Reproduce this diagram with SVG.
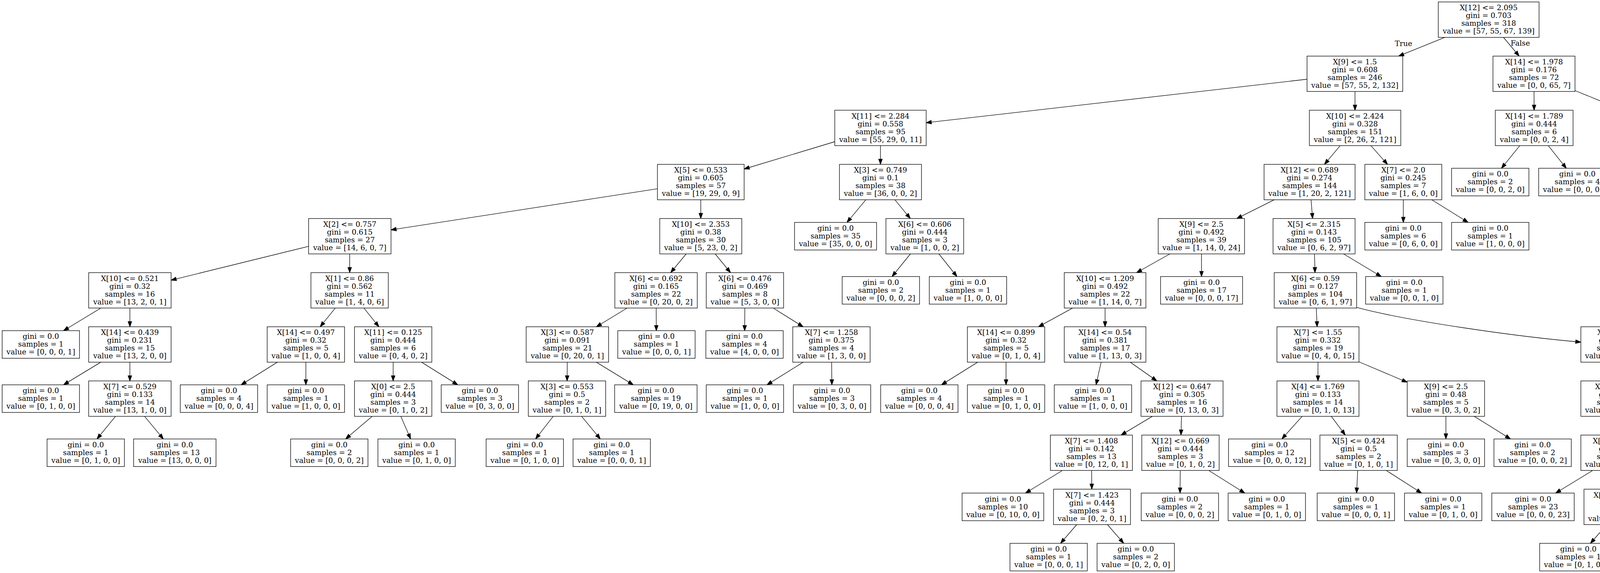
<svg xmlns="http://www.w3.org/2000/svg" width="4720" height="1468" viewBox="0 0 4720 1468">
<style>
.node rect{fill:#fff;stroke:#000;stroke-width:1.33}
text{font-family:"DejaVu Serif","Liberation Serif",serif;font-size:18.67px;text-anchor:middle;fill:#000}
.edges line,.edges path{stroke:#000;stroke-width:1.33;fill:none;marker-end:url(#arrow)}
</style>
<defs>
<marker id="arrow" markerUnits="userSpaceOnUse" markerWidth="14" markerHeight="10" refX="13.33" refY="4.67" orient="auto" overflow="visible">
<path d="M0,0 L13.33,4.67 L0,9.33 z" fill="#000" stroke="#000" stroke-width="1.33"/>
</marker>
</defs>
<rect width="4720" height="1468" fill="#fff"/>
<g id="edges" class="edges">
<line x1="3699" y1="95.7" x2="3580.5" y2="143.7"/>
<line x1="3848.9" y1="95.7" x2="3889.1" y2="143.7"/>
<line x1="3346" y1="203" x2="2371" y2="314.4"/>
<line x1="3468.7" y1="234.4" x2="3468.8" y2="282.4"/>
<line x1="3927.2" y1="234.4" x2="3927.3" y2="282.4"/>
<line x1="4032" y1="232" x2="4161" y2="284.8"/>
<line x1="2137" y1="363" x2="1905" y2="433"/>
<line x1="2254" y1="373.1" x2="2254" y2="421.1"/>
<line x1="3430.9" y1="373.1" x2="3390.6" y2="421.1"/>
<line x1="3509.4" y1="373.1" x2="3552.1" y2="421.1"/>
<line x1="3890.7" y1="373.1" x2="3843.7" y2="431.1"/>
<line x1="3963.6" y1="373.1" x2="4009.8" y2="431.1"/>
<line x1="4266" y1="373.1" x2="4266" y2="431.1"/>
<line x1="4342.7" y1="373.1" x2="4423.8" y2="421.1"/>
<line x1="1683" y1="483.6" x2="1001" y2="588.9"/>
<line x1="1794" y1="511.8" x2="1794" y2="559.8"/>
<line x1="2216.4" y1="511.8" x2="2168.3" y2="569.8"/>
<line x1="2291.1" y1="511.8" x2="2330.4" y2="559.8"/>
<line x1="3261.9" y1="511.8" x2="3166.1" y2="559.8"/>
<line x1="3356.3" y1="511.8" x2="3360.2" y2="559.8"/>
<line x1="3592.5" y1="511.8" x2="3592.5" y2="569.8"/>
<line x1="3665.3" y1="511.8" x2="3758.3" y2="569.8"/>
<line x1="4463.6" y1="511.8" x2="4424.4" y2="559.8"/>
<line x1="4537.9" y1="511.8" x2="4585.8" y2="569.8"/>
<line x1="790" y1="631.1" x2="438" y2="717.8"/>
<line x1="895.3" y1="650.5" x2="895.2" y2="698.5"/>
<line x1="1756.6" y1="650.5" x2="1716.9" y2="698.5"/>
<line x1="1830.9" y1="650.5" x2="1870.1" y2="698.5"/>
<line x1="2330.7" y1="650.5" x2="2283.7" y2="708.5"/>
<line x1="2403.6" y1="650.5" x2="2449.8" y2="708.5"/>
<line x1="2994.9" y1="650.5" x2="2909.6" y2="698.5"/>
<line x1="3075.7" y1="650.5" x2="3075.9" y2="708.5"/>
<line x1="3365.1" y1="650.5" x2="3366.4" y2="698.5"/>
<line x1="3439.5" y1="650.5" x2="3536.1" y2="708.5"/>
<line x1="4350.4" y1="650.5" x2="4302.9" y2="708.5"/>
<line x1="4424.9" y1="650.5" x2="4472.8" y2="708.5"/>
<line x1="258" y1="789.2" x2="162.6" y2="847.2"/>
<line x1="332.5" y1="789.2" x2="332.5" y2="837.2"/>
<line x1="858.4" y1="789.2" x2="819.6" y2="837.2"/>
<line x1="931.5" y1="789.2" x2="970" y2="837.2"/>
<line x1="1605.3" y1="789.2" x2="1526.7" y2="837.2"/>
<line x1="1679.8" y1="789.2" x2="1680.2" y2="847.2"/>
<line x1="1906.7" y1="789.2" x2="1906.3" y2="847.2"/>
<line x1="1979.4" y1="789.2" x2="2056.1" y2="837.2"/>
<line x1="2746.1" y1="789.2" x2="2658.4" y2="837.2"/>
<line x1="2829" y1="789.2" x2="2829" y2="837.2"/>
<line x1="3369.6" y1="789.2" x2="3371.9" y2="837.2"/>
<path d="M3473.3,787.7 C3600,822 3880,862 4047,876.5"/>
<line x1="258" y1="927.9" x2="162.6" y2="985.9"/>
<line x1="332.5" y1="927.9" x2="332.5" y2="975.9"/>
<line x1="710.2" y1="927.9" x2="617.2" y2="985.9"/>
<line x1="783" y1="927.9" x2="783" y2="985.9"/>
<line x1="1006.5" y1="927.9" x2="1006.5" y2="975.9"/>
<line x1="1079.1" y1="927.9" x2="1171.9" y2="985.9"/>
<line x1="1452.2" y1="927.9" x2="1451.8" y2="975.9"/>
<line x1="1526.6" y1="927.9" x2="1621.3" y2="985.9"/>
<line x1="2056.1" y1="927.9" x2="1963.5" y2="985.9"/>
<line x1="2129" y1="927.9" x2="2129.6" y2="985.9"/>
<line x1="2502.9" y1="927.9" x2="2410.1" y2="985.9"/>
<line x1="2575.5" y1="927.9" x2="2575.5" y2="985.9"/>
<line x1="2818.9" y1="927.9" x2="2805.9" y2="985.9"/>
<line x1="2893.4" y1="927.9" x2="2961.6" y2="975.9"/>
<line x1="3374" y1="927.9" x2="3374" y2="975.9"/>
<line x1="3479" y1="927" x2="3602.5" y2="979.3"/>
<line x1="4151.5" y1="927.9" x2="4151.5" y2="975.9"/>
<line x1="4228.3" y1="927.9" x2="4326.6" y2="985.9"/>
<line x1="295.6" y1="1066.6" x2="248.3" y2="1124.6"/>
<line x1="370.1" y1="1066.6" x2="418.2" y2="1124.6"/>
<line x1="953" y1="1066.6" x2="884.7" y2="1124.6"/>
<line x1="1026.1" y1="1066.6" x2="1051.2" y2="1124.6"/>
<line x1="1416.2" y1="1066.6" x2="1371" y2="1124.6"/>
<line x1="1488.9" y1="1066.6" x2="1536.8" y2="1124.6"/>
<line x1="2950.1" y1="1066.6" x2="2869.9" y2="1114.6"/>
<line x1="3024.7" y1="1066.6" x2="3023.3" y2="1114.6"/>
<line x1="3333.5" y1="1066.6" x2="3281.6" y2="1124.6"/>
<line x1="3408" y1="1066.6" x2="3444" y2="1114.6"/>
<line x1="3701.5" y1="1066.6" x2="3701.5" y2="1124.6"/>
<line x1="3774.1" y1="1066.6" x2="3866.9" y2="1124.6"/>
<line x1="4151.5" y1="1066.6" x2="4151.5" y2="1114.6"/>
<line x1="4226" y1="1066.6" x2="4305" y2="1114.6"/>
<line x1="2719.9" y1="1205.3" x2="2625.2" y2="1263.3"/>
<line x1="2794.5" y1="1205.3" x2="2795" y2="1253.3"/>
<line x1="3021.5" y1="1205.3" x2="3020.9" y2="1263.3"/>
<line x1="3094.3" y1="1205.3" x2="3186.7" y2="1263.3"/>
<line x1="3475.7" y1="1205.3" x2="3472.8" y2="1263.3"/>
<line x1="3548.8" y1="1205.3" x2="3639.3" y2="1263.3"/>
<line x1="4077.3" y1="1205.3" x2="3982.4" y2="1263.3"/>
<line x1="4152.2" y1="1205.3" x2="4152.8" y2="1253.3"/>
<line x1="4379.5" y1="1205.3" x2="4379.5" y2="1263.3"/>
<line x1="4451.8" y1="1205.3" x2="4544.2" y2="1263.3"/>
<line x1="2756.4" y1="1344" x2="2715" y2="1392"/>
<line x1="2835" y1="1344" x2="2876.7" y2="1392"/>
<line x1="4113.7" y1="1344" x2="4071.5" y2="1392"/>
<line x1="4192.1" y1="1344" x2="4232.9" y2="1392"/>
<text x="3593" y="117.5">True</text>
<text x="3892" y="116.5">False</text>
</g>
<g id="n0" class="node" transform="translate(3811,5)"><rect x="-129" width="258" height="90.7"/><text y="21.3">X[12] &lt;= 2.095</text><text y="41.3">gini = 0.703</text><text y="61.3">samples = 318</text><text y="81.3">value = [57, 55, 67, 139]</text></g>
<g id="n1" class="node" transform="translate(3468.5,143.7)"><rect x="-122.5" width="245" height="90.7"/><text y="21.3">X[9] &lt;= 1.5</text><text y="41.3">gini = 0.608</text><text y="61.3">samples = 246</text><text y="81.3">value = [57, 55, 2, 132]</text></g>
<g id="n2" class="node" transform="translate(3927,143.7)"><rect x="-105" width="210" height="90.7"/><text y="21.3">X[14] &lt;= 1.978</text><text y="41.3">gini = 0.176</text><text y="61.3">samples = 72</text><text y="81.3">value = [0, 0, 65, 7]</text></g>
<g id="n3" class="node" transform="translate(2254,282.4)"><rect x="-117" width="234" height="90.7"/><text y="21.3">X[11] &lt;= 2.284</text><text y="41.3">gini = 0.558</text><text y="61.3">samples = 95</text><text y="81.3">value = [55, 29, 0, 11]</text></g>
<g id="n4" class="node" transform="translate(3469,282.4)"><rect x="-117" width="234" height="90.7"/><text y="21.3">X[10] &lt;= 2.424</text><text y="41.3">gini = 0.328</text><text y="61.3">samples = 151</text><text y="81.3">value = [2, 26, 2, 121]</text></g>
<g id="n5" class="node" transform="translate(3927.5,282.4)"><rect x="-99.5" width="199" height="90.7"/><text y="21.3">X[14] &lt;= 1.789</text><text y="41.3">gini = 0.444</text><text y="61.3">samples = 6</text><text y="81.3">value = [0, 0, 2, 4]</text></g>
<g id="n6" class="node" transform="translate(4266,282.4)"><rect x="-105" width="210" height="90.7"/><text y="21.3">X[4] &lt;= 2.443</text><text y="41.3">gini = 0.087</text><text y="61.3">samples = 66</text><text y="81.3">value = [0, 0, 63, 3]</text></g>
<g id="n7" class="node" transform="translate(1794,421.1)"><rect x="-111" width="222" height="90.7"/><text y="21.3">X[5] &lt;= 0.533</text><text y="41.3">gini = 0.605</text><text y="61.3">samples = 57</text><text y="81.3">value = [19, 29, 0, 9]</text></g>
<g id="n8" class="node" transform="translate(2254,421.1)"><rect x="-105" width="210" height="90.7"/><text y="21.3">X[3] &lt;= 0.749</text><text y="41.3">gini = 0.1</text><text y="61.3">samples = 38</text><text y="81.3">value = [36, 0, 0, 2]</text></g>
<g id="n9" class="node" transform="translate(3352.5,421.1)"><rect x="-116.5" width="233" height="90.7"/><text y="21.3">X[12] &lt;= 0.689</text><text y="41.3">gini = 0.274</text><text y="61.3">samples = 144</text><text y="81.3">value = [1, 20, 2, 121]</text></g>
<g id="n10" class="node" transform="translate(3592.5,421.1)"><rect x="-98.5" width="197" height="90.7"/><text y="21.3">X[7] &lt;= 2.0</text><text y="41.3">gini = 0.245</text><text y="61.3">samples = 7</text><text y="81.3">value = [1, 6, 0, 0]</text></g>
<g id="n11" class="node" transform="translate(3815,431.1)"><rect x="-99" width="198" height="70.7"/><text y="21.3">gini = 0.0</text><text y="41.3">samples = 2</text><text y="61.3">value = [0, 0, 2, 0]</text></g>
<g id="n12" class="node" transform="translate(4038,431.1)"><rect x="-99" width="198" height="70.7"/><text y="21.3">gini = 0.0</text><text y="41.3">samples = 4</text><text y="61.3">value = [0, 0, 0, 4]</text></g>
<g id="n13" class="node" transform="translate(4266,431.1)"><rect x="-105" width="210" height="70.7"/><text y="21.3">gini = 0.0</text><text y="41.3">samples = 52</text><text y="61.3">value = [0, 0, 52, 0]</text></g>
<g id="n14" class="node" transform="translate(4500.5,421.1)"><rect x="-104.5" width="209" height="90.7"/><text y="21.3">X[3] &lt;= 2.314</text><text y="41.3">gini = 0.337</text><text y="61.3">samples = 14</text><text y="81.3">value = [0, 0, 11, 3]</text></g>
<g id="n15" class="node" transform="translate(895.5,559.8)"><rect x="-105.5" width="211" height="90.7"/><text y="21.3">X[2] &lt;= 0.757</text><text y="41.3">gini = 0.615</text><text y="61.3">samples = 27</text><text y="81.3">value = [14, 6, 0, 7]</text></g>
<g id="n16" class="node" transform="translate(1794,559.8)"><rect x="-105" width="210" height="90.7"/><text y="21.3">X[10] &lt;= 2.353</text><text y="41.3">gini = 0.38</text><text y="61.3">samples = 30</text><text y="81.3">value = [5, 23, 0, 2]</text></g>
<g id="n17" class="node" transform="translate(2139,569.8)"><rect x="-105" width="210" height="70.7"/><text y="21.3">gini = 0.0</text><text y="41.3">samples = 35</text><text y="61.3">value = [35, 0, 0, 0]</text></g>
<g id="n18" class="node" transform="translate(2367.5,559.8)"><rect x="-99.5" width="199" height="90.7"/><text y="21.3">X[6] &lt;= 0.606</text><text y="41.3">gini = 0.444</text><text y="61.3">samples = 3</text><text y="81.3">value = [1, 0, 0, 2]</text></g>
<g id="n19" class="node" transform="translate(3075.5,559.8)"><rect x="-110.5" width="221" height="90.7"/><text y="21.3">X[9] &lt;= 2.5</text><text y="41.3">gini = 0.492</text><text y="61.3">samples = 39</text><text y="81.3">value = [1, 14, 0, 24]</text></g>
<g id="n20" class="node" transform="translate(3364,559.8)"><rect x="-105" width="210" height="90.7"/><text y="21.3">X[5] &lt;= 2.315</text><text y="41.3">gini = 0.143</text><text y="61.3">samples = 105</text><text y="81.3">value = [0, 6, 2, 97]</text></g>
<g id="n21" class="node" transform="translate(3592.5,569.8)"><rect x="-98.5" width="197" height="70.7"/><text y="21.3">gini = 0.0</text><text y="41.3">samples = 6</text><text y="61.3">value = [0, 6, 0, 0]</text></g>
<g id="n22" class="node" transform="translate(3815,569.8)"><rect x="-99" width="198" height="70.7"/><text y="21.3">gini = 0.0</text><text y="41.3">samples = 1</text><text y="61.3">value = [1, 0, 0, 0]</text></g>
<g id="n23" class="node" transform="translate(4387.5,559.8)"><rect x="-104.5" width="209" height="90.7"/><text y="21.3">X[5] &lt;= 2.406</text><text y="41.3">gini = 0.153</text><text y="61.3">samples = 12</text><text y="81.3">value = [0, 0, 11, 1]</text></g>
<g id="n24" class="node" transform="translate(4615,569.8)"><rect x="-99" width="198" height="70.7"/><text y="21.3">gini = 0.0</text><text y="41.3">samples = 2</text><text y="61.3">value = [0, 0, 0, 2]</text></g>
<g id="n25" class="node" transform="translate(332.5,698.5)"><rect x="-105.5" width="211" height="90.7"/><text y="21.3">X[10] &lt;= 0.521</text><text y="41.3">gini = 0.32</text><text y="61.3">samples = 16</text><text y="81.3">value = [13, 2, 0, 1]</text></g>
<g id="n26" class="node" transform="translate(895,698.5)"><rect x="-99" width="198" height="90.7"/><text y="21.3">X[1] &lt;= 0.86</text><text y="41.3">gini = 0.562</text><text y="61.3">samples = 11</text><text y="81.3">value = [1, 4, 0, 6]</text></g>
<g id="n27" class="node" transform="translate(1679.5,698.5)"><rect x="-105.5" width="211" height="90.7"/><text y="21.3">X[6] &lt;= 0.692</text><text y="41.3">gini = 0.165</text><text y="61.3">samples = 22</text><text y="81.3">value = [0, 20, 0, 2]</text></g>
<g id="n28" class="node" transform="translate(1907,698.5)"><rect x="-99" width="198" height="90.7"/><text y="21.3">X[6] &lt;= 0.476</text><text y="41.3">gini = 0.469</text><text y="61.3">samples = 8</text><text y="81.3">value = [5, 3, 0, 0]</text></g>
<g id="n29" class="node" transform="translate(2255,708.5)"><rect x="-99" width="198" height="70.7"/><text y="21.3">gini = 0.0</text><text y="41.3">samples = 2</text><text y="61.3">value = [0, 0, 0, 2]</text></g>
<g id="n30" class="node" transform="translate(2478,708.5)"><rect x="-99" width="198" height="70.7"/><text y="21.3">gini = 0.0</text><text y="41.3">samples = 1</text><text y="61.3">value = [1, 0, 0, 0]</text></g>
<g id="n31" class="node" transform="translate(2829,698.5)"><rect x="-104.5" width="209" height="90.7"/><text y="21.3">X[10] &lt;= 1.209</text><text y="41.3">gini = 0.492</text><text y="61.3">samples = 22</text><text y="81.3">value = [1, 14, 0, 7]</text></g>
<g id="n32" class="node" transform="translate(3076,708.5)"><rect x="-105" width="210" height="70.7"/><text y="21.3">gini = 0.0</text><text y="41.3">samples = 17</text><text y="61.3">value = [0, 0, 0, 17]</text></g>
<g id="n33" class="node" transform="translate(3367.5,698.5)"><rect x="-105.5" width="211" height="90.7"/><text y="21.3">X[6] &lt;= 0.59</text><text y="41.3">gini = 0.127</text><text y="61.3">samples = 104</text><text y="81.3">value = [0, 6, 1, 97]</text></g>
<g id="n34" class="node" transform="translate(3595,708.5)"><rect x="-99" width="198" height="70.7"/><text y="21.3">gini = 0.0</text><text y="41.3">samples = 1</text><text y="61.3">value = [0, 0, 1, 0]</text></g>
<g id="n35" class="node" transform="translate(4274,708.5)"><rect x="-105" width="210" height="70.7"/><text y="21.3">gini = 0.0</text><text y="41.3">samples = 11</text><text y="61.3">value = [0, 0, 11, 0]</text></g>
<g id="n36" class="node" transform="translate(4502,708.5)"><rect x="-99" width="198" height="70.7"/><text y="21.3">gini = 0.0</text><text y="41.3">samples = 1</text><text y="61.3">value = [0, 0, 0, 1]</text></g>
<g id="n37" class="node" transform="translate(104.5,847.2)"><rect x="-99" width="198" height="70.7"/><text y="21.3">gini = 0.0</text><text y="41.3">samples = 1</text><text y="61.3">value = [0, 0, 0, 1]</text></g>
<g id="n38" class="node" transform="translate(332.5,837.2)"><rect x="-105.5" width="211" height="90.7"/><text y="21.3">X[14] &lt;= 0.439</text><text y="41.3">gini = 0.231</text><text y="61.3">samples = 15</text><text y="81.3">value = [13, 2, 0, 0]</text></g>
<g id="n39" class="node" transform="translate(783,837.2)"><rect x="-99" width="198" height="90.7"/><text y="21.3">X[14] &lt;= 0.497</text><text y="41.3">gini = 0.32</text><text y="61.3">samples = 5</text><text y="81.3">value = [1, 0, 0, 4]</text></g>
<g id="n40" class="node" transform="translate(1006.5,837.2)"><rect x="-99" width="198" height="90.7"/><text y="21.3">X[11] &lt;= 0.125</text><text y="41.3">gini = 0.444</text><text y="61.3">samples = 6</text><text y="81.3">value = [0, 4, 0, 2]</text></g>
<g id="n41" class="node" transform="translate(1452.5,837.2)"><rect x="-105.5" width="211" height="90.7"/><text y="21.3">X[3] &lt;= 0.587</text><text y="41.3">gini = 0.091</text><text y="61.3">samples = 21</text><text y="81.3">value = [0, 20, 0, 1]</text></g>
<g id="n42" class="node" transform="translate(1680.5,847.2)"><rect x="-99" width="198" height="70.7"/><text y="21.3">gini = 0.0</text><text y="41.3">samples = 1</text><text y="61.3">value = [0, 0, 0, 1]</text></g>
<g id="n43" class="node" transform="translate(1906,847.2)"><rect x="-99" width="198" height="70.7"/><text y="21.3">gini = 0.0</text><text y="41.3">samples = 4</text><text y="61.3">value = [4, 0, 0, 0]</text></g>
<g id="n44" class="node" transform="translate(2128.5,837.2)"><rect x="-99" width="198" height="90.7"/><text y="21.3">X[7] &lt;= 1.258</text><text y="41.3">gini = 0.375</text><text y="61.3">samples = 4</text><text y="81.3">value = [1, 3, 0, 0]</text></g>
<g id="n45" class="node" transform="translate(2575.5,837.2)"><rect x="-99" width="198" height="90.7"/><text y="21.3">X[14] &lt;= 0.899</text><text y="41.3">gini = 0.32</text><text y="61.3">samples = 5</text><text y="81.3">value = [0, 1, 0, 4]</text></g>
<g id="n46" class="node" transform="translate(2829,837.2)"><rect x="-104.5" width="209" height="90.7"/><text y="21.3">X[14] &lt;= 0.54</text><text y="41.3">gini = 0.381</text><text y="61.3">samples = 17</text><text y="81.3">value = [1, 13, 0, 3]</text></g>
<g id="n47" class="node" transform="translate(3374,837.2)"><rect x="-105" width="210" height="90.7"/><text y="21.3">X[7] &lt;= 1.55</text><text y="41.3">gini = 0.332</text><text y="61.3">samples = 19</text><text y="81.3">value = [0, 4, 0, 15]</text></g>
<g id="n48" class="node" transform="translate(4151.5,837.2)"><rect x="-104.5" width="209" height="90.7"/><text y="21.3">X[10] &lt;= 1.7</text><text y="41.3">gini = 0.069</text><text y="61.3">samples = 85</text><text y="81.3">value = [0, 2, 1, 82]</text></g>
<g id="n49" class="node" transform="translate(104.5,985.9)"><rect x="-99" width="198" height="70.7"/><text y="21.3">gini = 0.0</text><text y="41.3">samples = 1</text><text y="61.3">value = [0, 1, 0, 0]</text></g>
<g id="n50" class="node" transform="translate(332.5,975.9)"><rect x="-105.5" width="211" height="90.7"/><text y="21.3">X[7] &lt;= 0.529</text><text y="41.3">gini = 0.133</text><text y="61.3">samples = 14</text><text y="81.3">value = [13, 1, 0, 0]</text></g>
<g id="n51" class="node" transform="translate(560.5,985.9)"><rect x="-99" width="198" height="70.7"/><text y="21.3">gini = 0.0</text><text y="41.3">samples = 4</text><text y="61.3">value = [0, 0, 0, 4]</text></g>
<g id="n52" class="node" transform="translate(783,985.9)"><rect x="-99" width="198" height="70.7"/><text y="21.3">gini = 0.0</text><text y="41.3">samples = 1</text><text y="61.3">value = [1, 0, 0, 0]</text></g>
<g id="n53" class="node" transform="translate(1006.5,975.9)"><rect x="-99" width="198" height="90.7"/><text y="21.3">X[0] &lt;= 2.5</text><text y="41.3">gini = 0.444</text><text y="61.3">samples = 3</text><text y="81.3">value = [0, 1, 0, 2]</text></g>
<g id="n54" class="node" transform="translate(1228.5,985.9)"><rect x="-99" width="198" height="70.7"/><text y="21.3">gini = 0.0</text><text y="41.3">samples = 3</text><text y="61.3">value = [0, 3, 0, 0]</text></g>
<g id="n55" class="node" transform="translate(1451.5,975.9)"><rect x="-99" width="198" height="90.7"/><text y="21.3">X[3] &lt;= 0.553</text><text y="41.3">gini = 0.5</text><text y="61.3">samples = 2</text><text y="81.3">value = [0, 1, 0, 1]</text></g>
<g id="n56" class="node" transform="translate(1679,985.9)"><rect x="-105.5" width="211" height="70.7"/><text y="21.3">gini = 0.0</text><text y="41.3">samples = 19</text><text y="61.3">value = [0, 19, 0, 0]</text></g>
<g id="n57" class="node" transform="translate(1907,985.9)"><rect x="-99" width="198" height="70.7"/><text y="21.3">gini = 0.0</text><text y="41.3">samples = 1</text><text y="61.3">value = [1, 0, 0, 0]</text></g>
<g id="n58" class="node" transform="translate(2130,985.9)"><rect x="-99" width="198" height="70.7"/><text y="21.3">gini = 0.0</text><text y="41.3">samples = 3</text><text y="61.3">value = [0, 3, 0, 0]</text></g>
<g id="n59" class="node" transform="translate(2353.5,985.9)"><rect x="-99" width="198" height="70.7"/><text y="21.3">gini = 0.0</text><text y="41.3">samples = 4</text><text y="61.3">value = [0, 0, 0, 4]</text></g>
<g id="n60" class="node" transform="translate(2575.5,985.9)"><rect x="-99" width="198" height="70.7"/><text y="21.3">gini = 0.0</text><text y="41.3">samples = 1</text><text y="61.3">value = [0, 1, 0, 0]</text></g>
<g id="n61" class="node" transform="translate(2798,985.9)"><rect x="-99" width="198" height="70.7"/><text y="21.3">gini = 0.0</text><text y="41.3">samples = 1</text><text y="61.3">value = [1, 0, 0, 0]</text></g>
<g id="n62" class="node" transform="translate(3026,975.9)"><rect x="-105" width="210" height="90.7"/><text y="21.3">X[12] &lt;= 0.647</text><text y="41.3">gini = 0.305</text><text y="61.3">samples = 16</text><text y="81.3">value = [0, 13, 0, 3]</text></g>
<g id="n63" class="node" transform="translate(3374,975.9)"><rect x="-105" width="210" height="90.7"/><text y="21.3">X[4] &lt;= 1.769</text><text y="41.3">gini = 0.133</text><text y="61.3">samples = 14</text><text y="81.3">value = [0, 1, 0, 13]</text></g>
<g id="n64" class="node" transform="translate(3701.5,975.9)"><rect x="-99" width="198" height="90.7"/><text y="21.3">X[9] &lt;= 2.5</text><text y="41.3">gini = 0.48</text><text y="61.3">samples = 5</text><text y="81.3">value = [0, 3, 0, 2]</text></g>
<g id="n65" class="node" transform="translate(4151.5,975.9)"><rect x="-104.5" width="209" height="90.7"/><text y="21.3">X[2] &lt;= 1.722</text><text y="41.3">gini = 0.196</text><text y="61.3">samples = 28</text><text y="81.3">value = [0, 2, 1, 25]</text></g>
<g id="n66" class="node" transform="translate(4386.5,985.9)"><rect x="-104.5" width="209" height="70.7"/><text y="21.3">gini = 0.0</text><text y="41.3">samples = 57</text><text y="61.3">value = [0, 0, 0, 57]</text></g>
<g id="n67" class="node" transform="translate(219.5,1124.6)"><rect x="-99" width="198" height="70.7"/><text y="21.3">gini = 0.0</text><text y="41.3">samples = 1</text><text y="61.3">value = [0, 1, 0, 0]</text></g>
<g id="n68" class="node" transform="translate(447.5,1124.6)"><rect x="-105.5" width="211" height="70.7"/><text y="21.3">gini = 0.0</text><text y="41.3">samples = 13</text><text y="61.3">value = [13, 0, 0, 0]</text></g>
<g id="n69" class="node" transform="translate(843,1124.6)"><rect x="-99" width="198" height="70.7"/><text y="21.3">gini = 0.0</text><text y="41.3">samples = 2</text><text y="61.3">value = [0, 0, 0, 2]</text></g>
<g id="n70" class="node" transform="translate(1066.5,1124.6)"><rect x="-99" width="198" height="70.7"/><text y="21.3">gini = 0.0</text><text y="41.3">samples = 1</text><text y="61.3">value = [0, 1, 0, 0]</text></g>
<g id="n71" class="node" transform="translate(1343.5,1124.6)"><rect x="-99" width="198" height="70.7"/><text y="21.3">gini = 0.0</text><text y="41.3">samples = 1</text><text y="61.3">value = [0, 1, 0, 0]</text></g>
<g id="n72" class="node" transform="translate(1566,1124.6)"><rect x="-99" width="198" height="70.7"/><text y="21.3">gini = 0.0</text><text y="41.3">samples = 1</text><text y="61.3">value = [0, 0, 0, 1]</text></g>
<g id="n73" class="node" transform="translate(2794,1114.6)"><rect x="-105" width="210" height="90.7"/><text y="21.3">X[7] &lt;= 1.408</text><text y="41.3">gini = 0.142</text><text y="61.3">samples = 13</text><text y="81.3">value = [0, 12, 0, 1]</text></g>
<g id="n74" class="node" transform="translate(3022,1114.6)"><rect x="-99" width="198" height="90.7"/><text y="21.3">X[12] &lt;= 0.669</text><text y="41.3">gini = 0.444</text><text y="61.3">samples = 3</text><text y="81.3">value = [0, 1, 0, 2]</text></g>
<g id="n75" class="node" transform="translate(3250,1124.6)"><rect x="-105" width="210" height="70.7"/><text y="21.3">gini = 0.0</text><text y="41.3">samples = 12</text><text y="61.3">value = [0, 0, 0, 12]</text></g>
<g id="n76" class="node" transform="translate(3478,1114.6)"><rect x="-99" width="198" height="90.7"/><text y="21.3">X[5] &lt;= 0.424</text><text y="41.3">gini = 0.5</text><text y="61.3">samples = 2</text><text y="81.3">value = [0, 1, 0, 1]</text></g>
<g id="n77" class="node" transform="translate(3701.5,1124.6)"><rect x="-99" width="198" height="70.7"/><text y="21.3">gini = 0.0</text><text y="41.3">samples = 3</text><text y="61.3">value = [0, 3, 0, 0]</text></g>
<g id="n78" class="node" transform="translate(3923.5,1124.6)"><rect x="-99" width="198" height="70.7"/><text y="21.3">gini = 0.0</text><text y="41.3">samples = 2</text><text y="61.3">value = [0, 0, 0, 2]</text></g>
<g id="n79" class="node" transform="translate(4151.5,1114.6)"><rect x="-104.5" width="209" height="90.7"/><text y="21.3">X[14] &lt;= 1.408</text><text y="41.3">gini = 0.074</text><text y="61.3">samples = 26</text><text y="81.3">value = [0, 1, 0, 25]</text></g>
<g id="n80" class="node" transform="translate(4379.5,1114.6)"><rect x="-98.5" width="197" height="90.7"/><text y="21.3">X[1] &lt;= 0.913</text><text y="41.3">gini = 0.5</text><text y="61.3">samples = 2</text><text y="81.3">value = [0, 1, 1, 0]</text></g>
<g id="n81" class="node" transform="translate(2567.5,1263.3)"><rect x="-104.5" width="209" height="70.7"/><text y="21.3">gini = 0.0</text><text y="41.3">samples = 10</text><text y="61.3">value = [0, 10, 0, 0]</text></g>
<g id="n82" class="node" transform="translate(2795.5,1253.3)"><rect x="-98.5" width="197" height="90.7"/><text y="21.3">X[7] &lt;= 1.423</text><text y="41.3">gini = 0.444</text><text y="61.3">samples = 3</text><text y="81.3">value = [0, 2, 0, 1]</text></g>
<g id="n83" class="node" transform="translate(3020.5,1263.3)"><rect x="-99" width="198" height="70.7"/><text y="21.3">gini = 0.0</text><text y="41.3">samples = 2</text><text y="61.3">value = [0, 0, 0, 2]</text></g>
<g id="n84" class="node" transform="translate(3243,1263.3)"><rect x="-99" width="198" height="70.7"/><text y="21.3">gini = 0.0</text><text y="41.3">samples = 1</text><text y="61.3">value = [0, 1, 0, 0]</text></g>
<g id="n85" class="node" transform="translate(3471,1263.3)"><rect x="-99" width="198" height="70.7"/><text y="21.3">gini = 0.0</text><text y="41.3">samples = 1</text><text y="61.3">value = [0, 0, 0, 1]</text></g>
<g id="n86" class="node" transform="translate(3694.5,1263.3)"><rect x="-99" width="198" height="70.7"/><text y="21.3">gini = 0.0</text><text y="41.3">samples = 1</text><text y="61.3">value = [0, 1, 0, 0]</text></g>
<g id="n87" class="node" transform="translate(3924.5,1263.3)"><rect x="-105.5" width="211" height="70.7"/><text y="21.3">gini = 0.0</text><text y="41.3">samples = 23</text><text y="61.3">value = [0, 0, 0, 23]</text></g>
<g id="n88" class="node" transform="translate(4153.5,1253.3)"><rect x="-98.5" width="197" height="90.7"/><text y="21.3">X[12] &lt;= 1.491</text><text y="41.3">gini = 0.444</text><text y="61.3">samples = 3</text><text y="81.3">value = [0, 1, 0, 2]</text></g>
<g id="n89" class="node" transform="translate(4379.5,1263.3)"><rect x="-99" width="198" height="70.7"/><text y="21.3">gini = 0.0</text><text y="41.3">samples = 1</text><text y="61.3">value = [0, 0, 1, 0]</text></g>
<g id="n90" class="node" transform="translate(4600.5,1263.3)"><rect x="-99" width="198" height="70.7"/><text y="21.3">gini = 0.0</text><text y="41.3">samples = 1</text><text y="61.3">value = [0, 1, 0, 0]</text></g>
<g id="n91" class="node" transform="translate(2684.5,1392)"><rect x="-99" width="198" height="70.7"/><text y="21.3">gini = 0.0</text><text y="41.3">samples = 1</text><text y="61.3">value = [0, 0, 0, 1]</text></g>
<g id="n92" class="node" transform="translate(2907.5,1392)"><rect x="-99" width="198" height="70.7"/><text y="21.3">gini = 0.0</text><text y="41.3">samples = 2</text><text y="61.3">value = [0, 2, 0, 0]</text></g>
<g id="n93" class="node" transform="translate(4040.5,1392)"><rect x="-99" width="198" height="70.7"/><text y="21.3">gini = 0.0</text><text y="41.3">samples = 1</text><text y="61.3">value = [0, 1, 0, 0]</text></g>
<g id="n94" class="node" transform="translate(4263,1392)"><rect x="-99" width="198" height="70.7"/><text y="21.3">gini = 0.0</text><text y="41.3">samples = 2</text><text y="61.3">value = [0, 0, 0, 2]</text></g>
</svg>
